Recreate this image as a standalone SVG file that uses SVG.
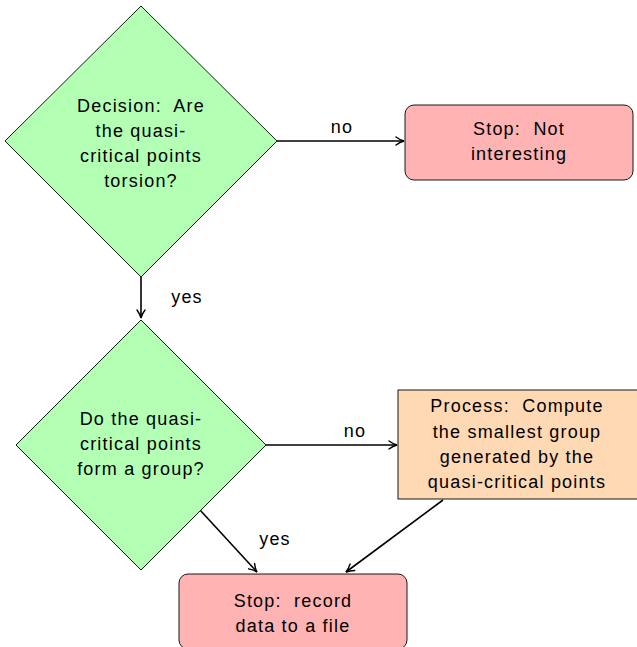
<svg xmlns="http://www.w3.org/2000/svg" width="637" height="647" viewBox="0 0 637 647">
<style>
text{font-family:"Liberation Sans","DejaVu Sans",sans-serif;font-size:18px;letter-spacing:1.2px;fill:#000;text-anchor:middle}
.dec{fill:#b3ffb3;stroke:#000;stroke-width:0.9}
.stop{fill:#ffb3b3;stroke:#000;stroke-width:0.9}
.proc{fill:#ffd9b3;stroke:#000;stroke-width:0.9}
.edge{fill:none;stroke:#000;stroke-width:1.6;marker-end:url(#arr)}
</style>
<defs>
<marker id="arr" viewBox="0 0 10 10" refX="9" refY="5" markerWidth="10" markerHeight="10" markerUnits="userSpaceOnUse" orient="auto">
<path d="M1,1 Q5,4 9,5 Q5,6 1,9" fill="none" stroke="#000" stroke-width="1.4" stroke-linecap="round"/>
</marker>
</defs>
<g id="connectors">
<line class="edge" x1="277" y1="141" x2="404" y2="141"/>
<text x="342" y="133">no</text>
<line class="edge" x1="141" y1="277" x2="141" y2="318"/>
<text x="187" y="303">yes</text>
<line class="edge" x1="266" y1="445" x2="397" y2="445"/>
<text x="355" y="437">no</text>
<line class="edge" x1="200" y1="510" x2="257" y2="572"/>
<text x="275" y="545">yes</text>
<line class="edge" x1="443" y1="500" x2="346" y2="572"/>
</g>
<g id="decision1">
<polygon class="dec" points="141,6 277,141 141,277 5,141"/>
<text x="141" y="112" xml:space="preserve">Decision:  Are</text>
<text x="141" y="137">the quasi-</text>
<text x="141" y="162">critical points</text>
<text x="141" y="187">torsion?</text>
</g>
<g id="stop1">
<rect class="stop" x="405" y="105" width="228" height="75" rx="9"/>
<text x="519" y="135" xml:space="preserve">Stop:  Not</text>
<text x="519" y="160">interesting</text>
</g>
<g id="decision2">
<polygon class="dec" points="141,320 266,445 141,570 16,445"/>
<text x="141" y="425">Do the quasi-</text>
<text x="141" y="450">critical points</text>
<text x="141" y="475">form a group?</text>
</g>
<g id="process">
<rect class="proc" x="398" y="390" width="245" height="109"/>
<text x="517" y="412" xml:space="preserve">Process:  Compute</text>
<text x="517" y="438">the smallest group</text>
<text x="517" y="463">generated by the</text>
<text x="517" y="488">quasi-critical points</text>
</g>
<g id="stop2">
<rect class="stop" x="179" y="574" width="228" height="75" rx="9"/>
<text x="293" y="607" xml:space="preserve">Stop:  record</text>
<text x="293" y="632">data to a file</text>
</g>
</svg>
